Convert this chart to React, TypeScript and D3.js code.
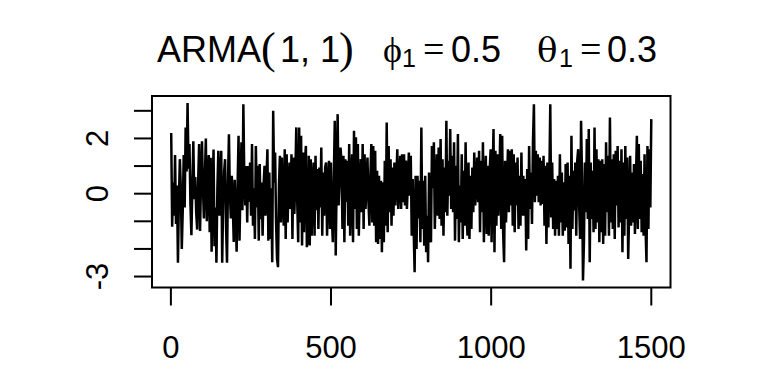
import React from "react";
import * as d3 from "d3";

// ARMA(1,1) series, values (one value every ~3 time steps)
const seriesValues: number[] = [
  2.2, -1.2, 0.4, -0.8, 1.4, -1.1, 0.3, -2.5, -0.2, 1.25,
  0.2, -2.0, -0.6, 1.4, -0.5, 2.4, 0.8, 3.28, 0.9, 1.8,
  -0.4, -1.5, 0.3, 1.9, -0.2, 0.6, -0.7, -1.3, 0.4, 1.8,
  -1.35, 0.5, 1.9, 0.2, -0.9, 0.6, 2.0, -1.0, 0.3, 1.4,
  -1.4, 1.3, -2.1, 0.1, 1.6, -1.9, -0.5, -2.5, 0.2, 1.55,
  -0.8, 0.5, 1.55, -2.5, -0.3, 0.8, 1.25, -1.2, -2.5, 0.4,
  2.15, 0.0, -0.9, 0.65, -0.4, -1.75, 0.5, -0.6, -2.1, 0.3,
  2.1, -1.7, 0.2,
  1.86, -0.6, 3.24, 0.5, -0.43, 1.0, -1.04, 1.0, -0.3, 1.13,
  -0.8, 1.8, -1.16, 0.2, -1.64, 1.73, -0.5, 1.01, -1.7, 1.07,
  -0.92, 0.4, -1.52, 0.3, 1.01, -0.8, 0.5, 1.61, -1.7, 0.77,
  -1.64, 0.2, -2.48, 3.0, 0.4, 1.49, -1.04, -2.36, -2.66, 0.3,
  1.37, -1.04, 1.31, -0.2, -1.16, 1.61, -1.64, 1.43, -1.04, 0.3,
  1.13, -0.55, 1.43, -1.64, 1.31, -0.73, 0.6, 2.4, -0.3, -1.76,
  2.4, -1.04, 2.1, -1.88, 1.49, -1.4, 1.19, 1.73, -1.94, -1.52,
  1.37, -1.88, 1.25, -1.52, 0.4, 1.13, -1.52, 1.37, -0.6, 0.89,
  -1.28, 0.95, -0.5,
  1.67, -1.52, 0.77, -0.8, 0.95, 1.13, -1.52, 0.3, 1.19, -1.28,
  1.13, -0.92, -1.76, 0.5, 2.64, -2.24, 0.6, 2.88, -0.43, 0.5,
  1.67, 1.13, -1.28, 1.37, -1.76, 1.25, -0.3, 1.19, -1.16, 1.8,
  -1.52, 0.3, 1.43, -1.76, 2.28, -0.55, 2.04, -1.28, 1.8, -1.52,
  0.2, 1.25, -0.67, 1.8, -1.28, 1.43, -0.55, 0.4, 1.31, -0.3,
  -1.16, 0.6, 1.8, -1.04, 1.73, -1.16, 1.55, -1.76, 0.83, -1.82,
  0.65, -1.64, 0.47, -2.12, 0.41, -1.76, 1.19, -1.16, 2.58, -1.4,
  1.73, -0.67, 1.25, -1.16, 0.95, -0.8, 1.13, -0.43, 0.5, 1.61,
  -0.55, 0.3, 1.37, -0.55, 1.43, -0.31, 1.43, -0.43,
  1.2, -0.55, 0.4, 1.49, -0.07, 1.37, -1.52, 0.53, -1.28, -2.84,
  0.65, -2.0, 0.65, -0.9, 0.47, -1.76, 2.4, -1.28, 0.47, -1.88,
  0.65, -2.12, -0.8, -2.48, 0.77, -1.52, -1.76, 1.73, 0.2, 1.86,
  -1.28, 0.3, 1.43, -0.8, 1.67, -0.92, 1.98, -1.16, 1.25, -1.52,
  0.95, -0.67, 2.64, -0.8, 1.19, -0.07, 2.34, -0.55, 1.37, -0.67,
  1.86, -1.7, 1.01, -0.92, 2.16, -1.76, 0.3, -1.04, 1.43, -1.64,
  0.83, -1.16, 1.86, -0.8, -1.52, 1.13, -1.64, 0.65, -1.28, 0.95,
  -0.67, 1.49, -0.43, 0.4, 1.31, -0.31, 1.55, -1.4, 1.19, -0.67,
  1.86, -1.76, 0.2, 1.37, -1.46, 1.01, -1.52, 0.83,
  1.61, -1.76, 0.5, 2.34, -2.12, 1.55, -1.16, 1.43, -0.8, 0.4,
  2.16, -1.28, 2.1, -1.4, -2.48, 1.19, -1.04, 0.3, 1.61, -0.67,
  1.55, -0.43, 1.61, -1.16, 1.43, -1.4, 1.13, -0.43, 1.31, -1.28,
  0.65, -1.16, 1.49, -0.8, 0.65, -0.8, 0.53, -2.06, 0.89, -1.64,
  1.73, -0.55, 0.77, -1.1, 1.86, 3.24, -0.31, 1.55, -0.07, 1.43,
  -0.31, 1.31, -0.43, 1.19, -0.37, 1.37, -1.16, 1.01, -1.82, 1.13,
  -1.22, 0.5, 3.24, -0.86, 1.13, -1.28, 0.53, -1.52, 0.47, -1.28,
  0.65, -1.52, 1.43, -1.04, 0.77, -1.52, 0.41, -1.34, 1.07, -1.22,
  1.13, -1.82, 0.65, -2.72, 2.1, -1.28, 0.83, -0.61, 1.13,
  -1.52, 1.19, 1.61, -0.43, -1.64, 2.64, 0.65, -3.14, -1.76, 1.13,
  -0.67, 1.98, -0.92, 2.34, -2.48, 1.13, -0.92, 0.83, -1.4, 2.4,
  -1.28, 1.61, -1.04, 1.25, -1.76, 1.19, -1.4, 1.25, -1.82, 1.07,
  -1.52, 1.86, -0.67, 1.37, -1.52, 2.76, -1.04, 1.25, -1.28, 1.43,
  -1.64, 1.55, -0.43, 1.73, -1.22, 1.19, -1.04, 1.61, -2.12, 1.13,
  -1.52, 1.73, -0.92, 1.31, -2.36, -0.6, 1.37, -1.16, 0.77, -1.04,
  1.07, -1.46, 0.4, 2.1, -1.28, 1.8, -0.92, 1.19, -1.4, 0.71,
  -1.52, 1.43, -1.2, -2.48, 1.73, -1.28, 1.61, -0.5, 2.7,
];

const seriesLength = 1500;
const xTicks = [0, 500, 1000, 1500];
const xTickLabels = ["0", "500", "1000", "1500"];
const yTicks = [-3, -2, -1, 0, 1, 2, 3];
const yTickLabels = ["-3", "", "", "0", "", "2", ""];

const W = 768;
const H = 384;
const box = { left: 152, right: 670.5, top: 96, bottom: 287.5 };
const tickLen = 18;
const sans = "'Liberation Sans', Arimo, Arial, Helvetica, sans-serif";
const serif = "'Liberation Serif', 'DejaVu Serif', 'Times New Roman', serif";
const greek = "'DejaVu Serif', 'Liberation Serif', serif";

export default function App() {
  const step = (seriesLength - 1) / (seriesValues.length - 1);
  const times = seriesValues.map((_, i) => 1 + i * step);

  const xPad = 0.04 * (seriesLength - 1);
  const x = d3
    .scaleLinear()
    .domain([1 - xPad, seriesLength + xPad])
    .range([box.left, box.right]);

  const [ymin, ymax] = d3.extent(seriesValues) as [number, number];
  const yPad = 0.04 * (ymax - ymin);
  const y = d3
    .scaleLinear()
    .domain([ymin - yPad, ymax + yPad])
    .range([box.bottom, box.top]);

  const line = d3
    .line<number>()
    .x((_, i) => x(times[i]))
    .y((d) => y(d));

  const titleBase = 62;

  return (
    <svg
      width={W}
      height={H}
      style={{ position: "absolute", left: 0, top: 0, background: "#fff" }}
      xmlns="http://www.w3.org/2000/svg"
    >
      <rect x={0} y={0} width={W} height={H} fill="#fff" />
      {/* series */}
      <path d={line(seriesValues) || ""} fill="none" stroke="#000" strokeWidth={2.5} strokeLinejoin="miter" strokeMiterlimit={2} />
      {/* box */}
      <rect
        x={box.left}
        y={box.top}
        width={box.right - box.left}
        height={box.bottom - box.top}
        fill="none"
        stroke="#000"
        strokeWidth={2}
      />
      {/* x axis ticks and labels */}
      {xTicks.map((t, i) => (
        <g key={"xt" + t}>
          <line x1={x(t)} x2={x(t)} y1={box.bottom} y2={box.bottom + tickLen} stroke="#000" strokeWidth={2} />
          <text x={x(t)} y={358} textAnchor="middle" fontFamily={sans} fontSize={31} fill="#000">
            {xTickLabels[i]}
          </text>
        </g>
      ))}
      {/* y axis ticks and labels */}
      {yTicks.map((t, i) => (
        <g key={"yt" + t}>
          <line x1={box.left - tickLen} x2={box.left} y1={y(t)} y2={y(t)} stroke="#000" strokeWidth={2} />
          {yTickLabels[i] !== "" && (
            <text
              transform={`translate(108, ${y(t)}) rotate(-90)`}
              textAnchor="middle"
              fontFamily={sans}
              fontSize={31}
              fill="#000"
            >
              {yTickLabels[i]}
            </text>
          )}
        </g>
      ))}
      {/* title */}
      <g fill="#000">
        <text x={157} y={titleBase} fontFamily={sans} fontSize={36}>ARMA</text>
        <text x={261} y={titleBase + 1} fontFamily={serif} fontSize={44}>(</text>
        <text x={280} y={titleBase} fontFamily={sans} fontSize={36}>1, 1</text>
        <text x={339} y={titleBase + 1} fontFamily={serif} fontSize={44}>)</text>
        <text x={383} y={titleBase} fontFamily={serif} fontSize={36}>ϕ</text>
        <text x={402} y={titleBase + 5} fontFamily={sans} fontSize={25}>1</text>
        <text x={423} y={titleBase} fontFamily={serif} fontSize={38}>=</text>
        <text x={451} y={titleBase} fontFamily={sans} fontSize={36}>0.5</text>
        <text x={537} y={titleBase} fontFamily={greek} fontSize={34}>θ</text>
        <text x={559} y={titleBase + 5} fontFamily={sans} fontSize={25}>1</text>
        <text x={580} y={titleBase} fontFamily={serif} fontSize={38}>=</text>
        <text x={607} y={titleBase} fontFamily={sans} fontSize={36}>0.3</text>
      </g>
    </svg>
  );
}
